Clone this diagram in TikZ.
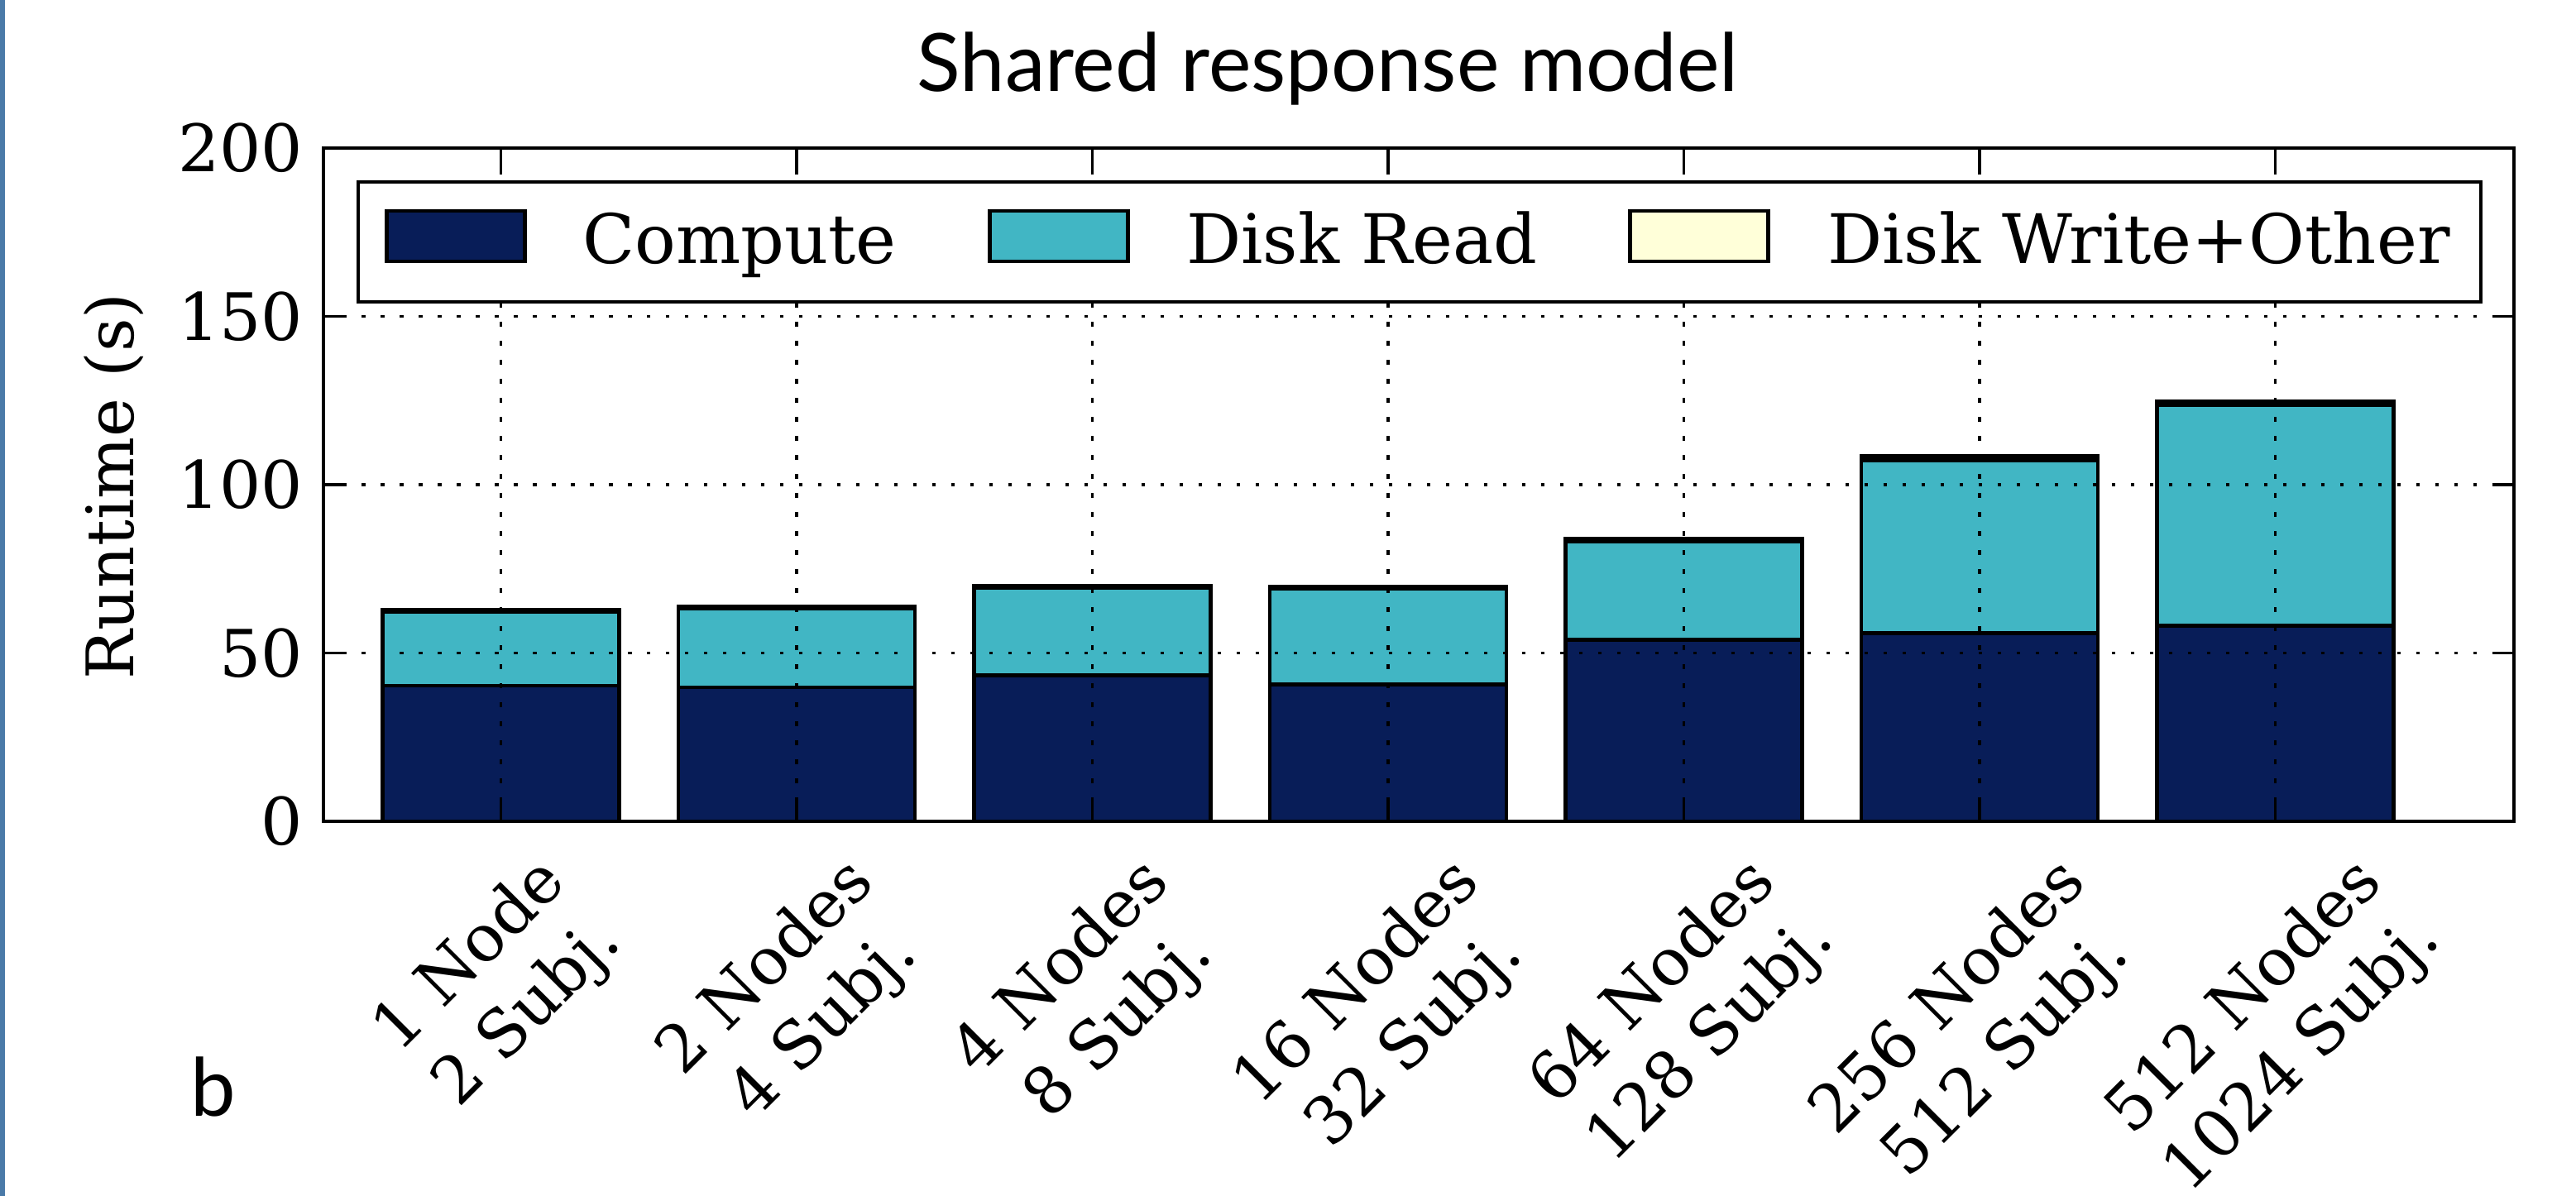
\documentclass[tikz,border=0pt]{standalone}
\usepackage{fontspec}
\setmainfont{DejaVu Serif}
\newfontfamily\latofont{Lato}
\usetikzlibrary{positioning, calc}

\definecolor{computecol}{RGB}{8,29,88}
\definecolor{readcol}{RGB}{65,182,196}
\definecolor{writecol}{RGB}{255,255,217}
\definecolor{panelcol}{RGB}{74,122,168}

\tikzset{
  barbox/.style={draw=black, line width=1.4pt},
  hgrid/.style={line width=0.9pt, dash pattern=on 0.045cm off 0.185cm},
  vgrid/.style={line width=0.9pt, dash pattern=on 0.06cm off 0.17cm},
  axframe/.style={line width=1.3pt},
  ticktext/.style={font=\fontsize{22.5}{28}\selectfont, inner sep=0pt},
  legpatch/.style={draw=black, line width=1.3pt, minimum width=1.67cm, minimum height=0.61cm, inner sep=0pt, anchor=south west},
  legtext/.style={font=\fontsize{23.5}{28}\selectfont, inner sep=0pt},
}

\begin{document}
\begin{tikzpicture}
\useasboundingbox (0,0) rectangle (31.14,14.46);
\clip (0,0) rectangle (31.14,14.46);

% Rand links
\fill[panelcol] (0,0) rectangle (0.06,14.46);

% Titel und Panel
\node[font=\latofont\fontsize{27.7}{33}\selectfont, anchor=base, inner sep=0pt] (title) at (16.05,13.35) {Shared response model};
\node[font=\latofont\fontsize{27.7}{33}\selectfont, anchor=base west, inner sep=0pt] (panel) at (2.30,0.96) {b};

\begin{scope}[shift={(3.91,4.53)}, x=3.575cm, y=0.0407cm]
  % Balken
  \foreach \i/\c/\r/\o in {0/40.3/22.0/0.4, 1/39.8/23.5/0.4, 2/43.3/26.0/0.6,
      3/40.6/28.5/0.6, 4/53.9/29.3/0.7, 5/55.9/51.3/1.2, 6/58.2/65.4/1.1} {
    \pgfmathsetmacro\ya{\c+\r}
    \pgfmathsetmacro\yb{\c+\r+\o}
    \draw[barbox, fill=computecol] ({0.2+\i},0) rectangle ({1.0+\i},\c);
    \draw[barbox, fill=readcol] ({0.2+\i},\c) rectangle ({1.0+\i},\ya);
    \draw[barbox, fill=writecol] ({0.2+\i},\ya) rectangle ({1.0+\i},\yb);
  }

  % Gitter
  \foreach \v in {50,100,150}
    \draw[hgrid] (0,\v) -- (7.407,\v);
  \foreach \i in {0,...,6}
    \draw[vgrid] ({0.6+\i},0) -- ({0.6+\i},200);

  % Legende
  \draw[axframe, fill=white] (0.1175,154.3) rectangle (7.295,189.9);
  \node[legpatch, fill=computecol] (pcomp) at (0.207,165.8) {};
  \node[legtext, right=0.67cm of pcomp.south east, anchor=base west] (tcomp) {Compute};
  \node[legpatch, fill=readcol] (pread) at (2.246,165.8) {};
  \node[legtext, right=0.68cm of pread.south east, anchor=base west] (tread) {Disk Read};
  \node[legpatch, fill=writecol] (pwrite) at (4.411,165.8) {};
  \node[legtext, right=0.69cm of pwrite.south east, anchor=base west] (twrite) {Disk Write+Other};

  % Rahmen und Ticks
  \draw[axframe] (0,0) rectangle (7.407,200);
  \foreach \i in {0,...,6} {
    \draw[line width=1pt] ({0.6+\i},0) -- ++(0,0.27cm);
    \draw[line width=1pt] ({0.6+\i},200) -- ++(0,-0.27cm);
  }
  \foreach \v in {0,50,...,200} {
    \draw[line width=1pt] (0,\v) -- ++(0.23cm,0);
    \draw[line width=1pt] (7.407,\v) -- ++(-0.23cm,0);
    \node[ticktext, anchor=east] (y\v) at ([xshift=-0.24cm]0,\v) {\v};
  }

  % Achsenbeschriftung x
  \foreach \i/\top/\bot in {0/1 Node/2 Subj., 1/2 Nodes/4 Subj., 2/4 Nodes/8 Subj.,
      3/16 Nodes/32 Subj., 4/64 Nodes/128 Subj., 5/256 Nodes/512 Subj.,
      6/512 Nodes/1024 Subj.}
    \node[ticktext, anchor=north] (x\i) at ([yshift=-0.27cm]{0.6+\i},0)
      {\rotatebox{45}{\begin{tabular}{@{}c@{}}\top\\\bot\end{tabular}}};
\end{scope}

% Achsenbeschriftung y
\node[ticktext, rotate=90] (ylabel) at (1.38,8.58) {Runtime (s)};
\end{tikzpicture}
\end{document}
